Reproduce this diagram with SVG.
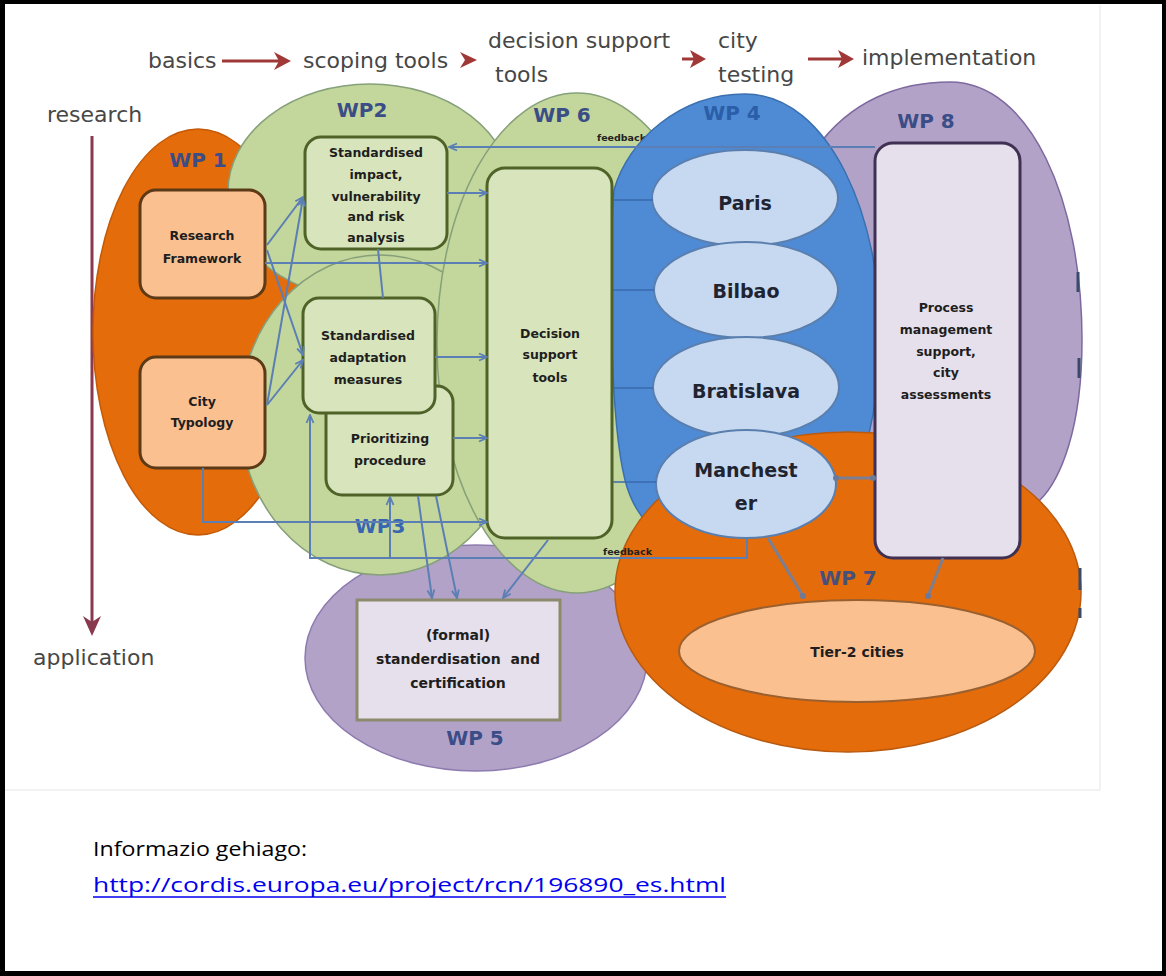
<svg xmlns="http://www.w3.org/2000/svg" width="1166" height="976" viewBox="0 0 1166 976">
<defs>
<style>
 .head{font-family:"DejaVu Sans",Verdana,sans-serif;font-size:22px;fill:#474747}
 .wp{font-family:"DejaVu Sans",Verdana,sans-serif;font-weight:bold;font-size:20px;fill:#3b4d86;text-anchor:middle}
 .t{font-family:"DejaVu Sans",Verdana,sans-serif;font-weight:bold;font-size:12.5px;fill:#1e1e1e;text-anchor:middle}
 .city{font-family:"DejaVu Sans",Verdana,sans-serif;font-weight:bold;font-size:19px;fill:#1f2430;text-anchor:middle}
 .fb{font-family:"DejaVu Sans",Verdana,sans-serif;font-weight:bold;font-size:9.5px;fill:#222}
 .green{fill:#c3d69b;stroke:#86a07a;stroke-width:1.5}
 .gbox{fill:#d8e4bc;stroke:#4f6228;stroke-width:3}
 .obox{fill:#fac090;stroke:#5c3a17;stroke-width:3}
 .cityE{fill:#c6d9f1;stroke:#5a7fae;stroke-width:2}
 .conn{fill:none;stroke:#5b7fb5;stroke-width:2}
 .thin{fill:none;stroke:#3a69aa;stroke-width:1.5}
 .gray{fill:none;stroke:#7b7f93;stroke-width:3}
 .red{stroke:#a03838;stroke-width:3;fill:none}
 .redhead{fill:#a03838}
</style>
<marker id="arr" markerUnits="userSpaceOnUse" markerWidth="10" markerHeight="10" refX="9" refY="5" orient="auto">
 <path d="M1,1.5 L9,5 L1,8.5" fill="none" stroke="#5b7fb5" stroke-width="1.8"/>
</marker>
<marker id="dot" markerUnits="userSpaceOnUse" markerWidth="8" markerHeight="8" refX="4" refY="4">
 <circle cx="4" cy="4" r="3" fill="#6b7a98"/>
</marker>
</defs>

<rect x="0" y="0" width="1166" height="976" fill="#fff"/>
<!-- faint edge of the embedded figure -->
<path d="M1100 5V790M5 790H1100" stroke="#eeeeee" stroke-width="1.5" fill="none"/>

<!-- phase headings -->
<g id="headings">
 <text class="head" x="148" y="68">basics</text>
 <path class="red" d="M222 61H280"/>
 <polygon class="redhead" points="274,52 291,61 274,70 279,61"/>
 <text class="head" x="303" y="68">scoping tools</text>
 <polygon class="redhead" points="460,52 477,60 460,68 465,60"/>
 <text class="head" x="488" y="48">decision support</text>
 <text class="head" x="495" y="82">tools</text>
 <path class="red" d="M682 59H696"/>
 <polygon class="redhead" points="690,50 706,59 690,68 694,59"/>
 <text class="head" x="718" y="48">city</text>
 <text class="head" x="718" y="82">testing</text>
 <path class="red" d="M808 59H842"/>
 <polygon class="redhead" points="838,50 854,59 838,68 842,59"/>
 <text class="head" x="862" y="65">implementation</text>
 <text class="head" x="47" y="122">research</text>
 <path d="M92 136V626" stroke="#8a3a4e" stroke-width="3" fill="none"/>
 <polygon points="83,616 92,636 101,616 92,622" fill="#8a3a4e"/>
 <text class="head" x="33" y="665">application</text>
</g>

<!-- work packages -->
<g id="wp1">
 <ellipse cx="198" cy="332" rx="105" ry="203" fill="#e46c0a" stroke="#c45a08" stroke-width="1.5"/>
 <text class="wp" x="198" y="167">WP 1</text>
</g>
<g id="wp5">
 <ellipse cx="476" cy="658" rx="171" ry="113" fill="#b3a2c7" stroke="#8d7bb0" stroke-width="1.5"/>
 <text class="wp" x="475" y="745">WP 5</text>
</g>
<g id="wp2">
 <ellipse class="green" cx="370" cy="192" rx="142" ry="108"/>
 <text class="wp" x="362" y="117">WP2</text>
</g>
<g id="wp3">
 <ellipse class="green" cx="380" cy="415" rx="140" ry="160"/>
 <text class="wp" x="380" y="533" style="fill:#3865b0">WP3</text>
</g>
<g id="wp6">
 <ellipse class="green" cx="577" cy="343" rx="140" ry="250"/>
 <text class="wp" x="562" y="122">WP 6</text>
 <text class="fb" x="597" y="141">feedback</text>
</g>
<g id="wp8">
 <path d="M950 82C1030 82 1082 200 1082 340C1082 430 1060 480 1040 500L860 520C830 480 805 300 815 150C850 100 900 82 950 82Z" fill="#b3a2c7" stroke="#7d69a0" stroke-width="1.5"/>
 <text class="wp" x="926" y="128">WP 8</text>
</g>
<g id="wp4">
 <path d="M745 94C680 94 628 140 614 190C608 260 610 420 625 480C640 540 700 570 750 570C820 570 878 480 880 340C882 220 830 94 745 94Z" fill="#4f8bd4" stroke="#3a6fb0" stroke-width="1.5"/>
 <text class="wp" x="732" y="120" style="fill:#2b5ea8">WP 4</text>
</g>
<g id="wp7">
 <ellipse cx="848" cy="592" rx="233" ry="160" fill="#e46c0a" stroke="#b95a10" stroke-width="1.5"/>
 <text class="wp" x="848" y="585" style="fill:#46507a">WP 7</text>
</g>

<!-- task boxes -->
<g id="research-framework">
 <rect class="obox" x="140" y="190" width="125" height="108" rx="16"/>
 <text class="t" x="202" y="240">Research</text>
 <text class="t" x="202" y="263">Framework</text>
</g>
<g id="city-typology">
 <rect class="obox" x="140" y="357" width="125" height="111" rx="16"/>
 <text class="t" x="202" y="406">City</text>
 <text class="t" x="202" y="427">Typology</text>
</g>
<g id="impact-analysis">
 <rect class="gbox" x="305" y="137" width="142" height="112" rx="16"/>
 <text class="t" x="376" y="157">Standardised</text>
 <text class="t" x="376" y="179">impact,</text>
 <text class="t" x="376" y="201">vulnerability</text>
 <text class="t" x="376" y="221">and risk</text>
 <text class="t" x="376" y="242">analysis</text>
</g>
<g id="prioritizing">
 <rect class="gbox" x="326" y="386" width="127" height="109" rx="16"/>
 <text class="t" x="390" y="443">Prioritizing</text>
 <text class="t" x="390" y="465">procedure</text>
</g>
<g id="adaptation">
 <rect class="gbox" x="303" y="298" width="132" height="115" rx="16"/>
 <text class="t" x="368" y="340">Standardised</text>
 <text class="t" x="368" y="362">adaptation</text>
 <text class="t" x="368" y="384">measures</text>
</g>
<g id="decision-support">
 <rect class="gbox" x="487" y="168" width="125" height="370" rx="18"/>
 <text class="t" x="550" y="338">Decision</text>
 <text class="t" x="550" y="359">support</text>
 <text class="t" x="550" y="382">tools</text>
</g>
<g id="standardisation">
 <rect x="357" y="600" width="203" height="120" fill="#e6e0ec" stroke="#8c8a6c" stroke-width="3"/>
 <text class="t" x="458" y="640" style="font-size:14px">(formal)</text>
 <text class="t" x="458" y="664" style="font-size:14px" word-spacing="5">standerdisation and</text>
 <text class="t" x="458" y="688" style="font-size:14px">certification</text>
</g>

<!-- test cities -->
<g id="paris">
 <ellipse class="cityE" cx="745" cy="198" rx="93" ry="48"/>
 <text class="city" x="745" y="210">Paris</text>
</g>
<g id="bilbao">
 <ellipse class="cityE" cx="746" cy="290" rx="92" ry="48"/>
 <text class="city" x="746" y="298">Bilbao</text>
</g>
<g id="bratislava">
 <ellipse class="cityE" cx="746" cy="387" rx="93" ry="50"/>
 <text class="city" x="746" y="398">Bratislava</text>
</g>
<g id="manchester">
 <ellipse class="cityE" cx="746" cy="484" rx="90" ry="54"/>
 <text class="city" x="746" y="477">Manchest</text>
 <text class="city" x="746" y="510">er</text>
</g>
<g id="process-management">
 <rect x="875" y="143" width="145" height="415" rx="18" fill="#e6e0ec" stroke="#403152" stroke-width="3"/>
 <text class="t" x="946" y="312">Process</text>
 <text class="t" x="946" y="334">management</text>
 <text class="t" x="946" y="356">support,</text>
 <text class="t" x="946" y="377">city</text>
 <text class="t" x="946" y="399">assessments</text>
</g>
<g id="tier2">
 <ellipse cx="857" cy="651" rx="178" ry="51" fill="#fac090" stroke="#9a6030" stroke-width="2"/>
 <text class="t" x="857" y="657" style="font-size:14px">Tier-2 cities</text>
</g>

<!-- connectors -->
<g id="connectors">
 <path class="conn" d="M875 147H449" marker-end="url(#arr)"/>
 <path class="conn" d="M267 245L303 197" marker-end="url(#arr)"/>
 <path class="conn" d="M267 250L303 355" marker-end="url(#arr)"/>
 <path class="conn" d="M267 405L303 198" marker-end="url(#arr)"/>
 <path class="conn" d="M267 405L303 360" marker-end="url(#arr)"/>
 <path class="conn" d="M265 263H487" marker-end="url(#arr)"/>
 <path class="conn" d="M447 193H487" marker-end="url(#arr)"/>
 <path class="conn" d="M435 357H487" marker-end="url(#arr)"/>
 <path class="conn" d="M453 438H487" marker-end="url(#arr)"/>
 <path class="conn" d="M203 468V522H487" marker-end="url(#arr)"/>
 <path class="conn" d="M378 249L383 298"/>
 <path class="conn" d="M747 538V558H310V415" marker-end="url(#arr)"/>
 <path class="conn" d="M390 558V497" marker-end="url(#arr)"/>
 <path class="conn" d="M418 496L432 598" marker-end="url(#arr)"/>
 <path class="conn" d="M436 496L457 598" marker-end="url(#arr)"/>
 <path class="conn" d="M548 540L503 598" marker-end="url(#arr)"/>
 <path class="thin" d="M653 200H613M654 290H613M653 388H613M656 482H613"/>
 <path class="gray" d="M836 478H873" marker-start="url(#dot)" marker-end="url(#dot)"/>
 <path class="gray" d="M768 538L803 596" marker-end="url(#dot)"/>
 <path class="gray" d="M943 558L928 596" marker-end="url(#dot)"/>
 <path d="M1078 272V292M1079 358V378M1080 568V590M1080 608V618" stroke="#3a4a6a" stroke-width="3" fill="none"/>
 <text class="fb" x="603" y="555">feedback</text>
</g>

<!-- note below the figure -->
<g id="note">
 <text x="93" y="856" font-family="Open Sans, sans-serif" font-size="20" fill="#000" textLength="214" lengthAdjust="spacingAndGlyphs">Informazio gehiago:</text>
 <text x="93" y="892" font-family="Open Sans, sans-serif" font-size="20" fill="#0000ee" textLength="633" lengthAdjust="spacingAndGlyphs">http://cordis.europa.eu/project/rcn/196890_es.html</text>
 <path d="M93 897H726" stroke="#0000ee" stroke-width="1.5"/>
</g>

<!-- page frame -->
<path d="M0 0H1166V976H0Z M5 4V971H1162V4Z" fill="#000" fill-rule="evenodd"/>
</svg>
